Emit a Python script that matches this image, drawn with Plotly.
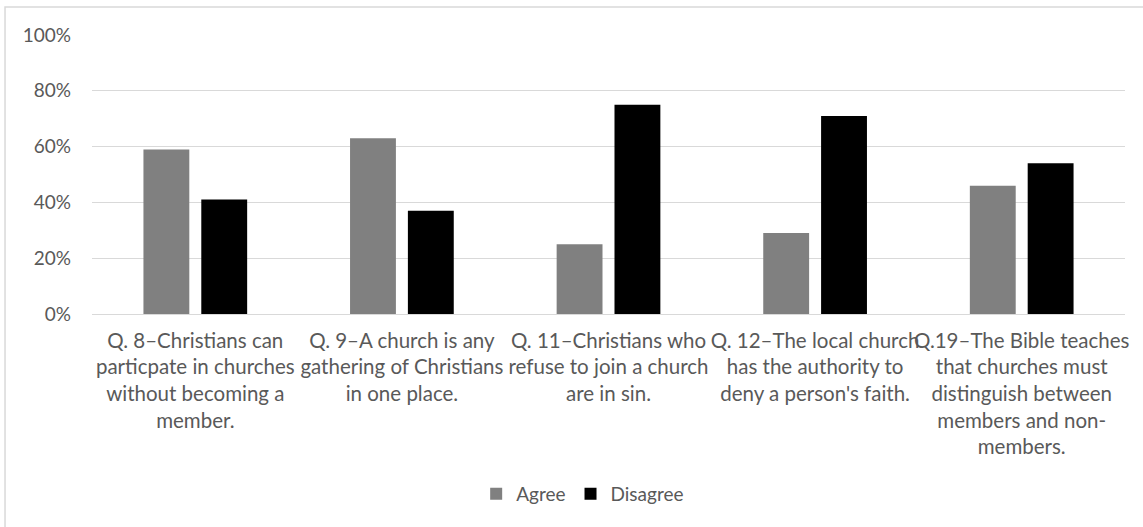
import plotly.graph_objects as go

categories = [
    "Q. 8–Christians can<br>particpate in churches<br>without becoming a<br>member.",
    "Q. 9–A church is any<br>gathering of Christians<br>in one place.",
    "Q. 11–Christians who<br>refuse to join a church<br>are in sin.",
    "Q. 12–The local church<br>has the authority to<br>deny a person's faith.",
    "Q.19–The Bible teaches<br>that churches must<br>distinguish between<br>members and non-<br>members.",
]
agree = [0.59, 0.63, 0.25, 0.29, 0.46]
disagree = [0.41, 0.37, 0.75, 0.71, 0.54]
tick_vals = [0, 0.2, 0.4, 0.6, 0.8, 1.0]
tick_text = ["0%", "20%", "40%", "60%", "80%", "100%"]

font_family = "Lato"
text_color = "#595959"

fig = go.Figure()
fig.add_trace(go.Bar(name="Agree", x=categories, y=agree, marker=dict(color="#808080", line=dict(width=0))))
fig.add_trace(go.Bar(name="Disagree", x=categories, y=disagree, marker=dict(color="#000000", line=dict(width=0))))

fig.update_layout(
    width=1143, height=527,
    margin=dict(l=92, r=18, t=35, b=213, autoexpand=False),
    paper_bgcolor="white", plot_bgcolor="white",
    barmode="group", bargap=0.44, bargroupgap=0.207,
    font=dict(family=font_family, size=20, color=text_color),
    legend=dict(orientation="h", x=0.475, xanchor="center", y=-0.645, yanchor="middle",
                font=dict(size=19, color=text_color), itemwidth=30, traceorder="normal"),
    showlegend=True,
    shapes=[dict(type="rect", xref="paper", yref="paper", x0=-0.0842, x1=1.2, y0=-1.2, y1=1.1004,
                 line=dict(color="#d9d9d9", width=1.5), fillcolor="rgba(0,0,0,0)", layer="below")],
)
fig.update_yaxes(range=[0, 1.0], tickvals=tick_vals, ticktext=tick_text, showgrid=True,
                 gridcolor="#d9d9d9", gridwidth=1, zeroline=False, showline=False, automargin=False,
                 ticklabelstandoff=20, tickfont=dict(size=19, color=text_color))
fig.update_xaxes(showline=True, linecolor="#d9d9d9", linewidth=1, ticks="", tickangle=0, automargin=False,
                 tickfont=dict(size=20.5, color=text_color), ticklabelstandoff=8)

fig.write_html("out.html")
